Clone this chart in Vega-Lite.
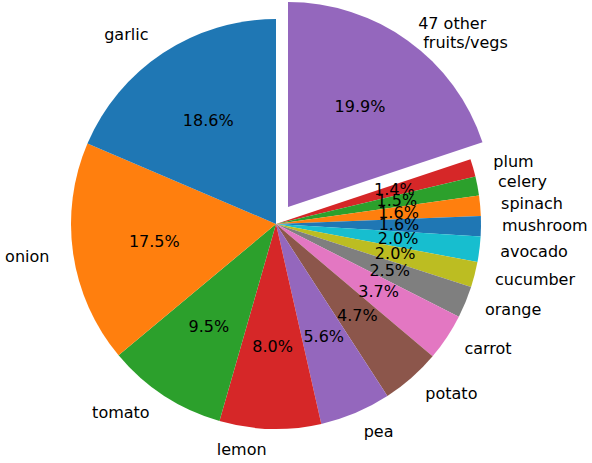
{
  "$schema": "https://vega.github.io/schema/vega-lite/v6.json",
  "width": 552,
  "height": 448,
  "autosize": {"type": "none"},
  "padding": {"left": 0, "top": 0, "right": 40, "bottom": 15},
  "background": "white",
  "config": {"view": {"stroke": null}, "text": {"font": "DejaVu Sans", "fontSize": 16}},
  "data": {
    "values": [
      {"i": 1, "label": "47 other\n\u200b\u00a0fruits/vegs", "share": 0.199},
      {"i": 2, "label": "plum", "share": 0.014},
      {"i": 3, "label": "celery", "share": 0.015},
      {"i": 4, "label": "spinach", "share": 0.016},
      {"i": 5, "label": "mushroom", "share": 0.016},
      {"i": 6, "label": "avocado", "share": 0.020},
      {"i": 7, "label": "cucumber", "share": 0.020},
      {"i": 8, "label": "orange", "share": 0.025},
      {"i": 9, "label": "carrot", "share": 0.037},
      {"i": 10, "label": "potato", "share": 0.047},
      {"i": 11, "label": "pea", "share": 0.056},
      {"i": 12, "label": "lemon", "share": 0.080},
      {"i": 13, "label": "tomato", "share": 0.095},
      {"i": 14, "label": "onion", "share": 0.175},
      {"i": 15, "label": "garlic", "share": 0.186}
    ]
  },
  "encoding": {
    "theta": {"field": "share", "type": "quantitative", "stack": true},
    "order": {"field": "i", "type": "quantitative"},
    "detail": {"field": "label", "type": "nominal"}
  },
  "layer": [
    {
      "mark": {"type": "arc", "outerRadius": 205},
      "encoding": {
        "color": {
          "field": "label", "type": "nominal", "legend": null,
          "scale": {
            "domain": ["garlic", "onion", "tomato", "lemon", "pea", "potato", "carrot", "orange", "cucumber", "avocado", "mushroom", "spinach", "celery", "plum", "47 other\n\u200b\u00a0fruits/vegs"],
            "range": ["#1f77b4", "#ff7f0e", "#2ca02c", "#d62728", "#9467bd", "#8c564b", "#e377c2", "#7f7f7f", "#bcbd22", "#17becf", "#1f77b4", "#ff7f0e", "#2ca02c", "#d62728", "#9467bd"]
          }
        },
        "opacity": {"condition": {"test": "datum.i == 1", "value": 0}, "value": 1}
      }
    },
    {
      "mark": {"type": "arc", "outerRadius": 205, "xOffset": 12, "yOffset": -17},
      "encoding": {
        "color": {"field": "label", "type": "nominal", "legend": null},
        "opacity": {"condition": {"test": "datum.i == 1", "value": 1}, "value": 0}
      }
    },
    {
      "mark": {"type": "text", "radius": 123, "align": "center", "baseline": "middle", "color": "black"},
      "encoding": {
        "text": {"field": "share", "type": "quantitative", "format": ".1%"},
        "opacity": {"condition": {"test": "datum.i == 1", "value": 0}, "value": 1}
      }
    },
    {
      "mark": {"type": "text", "radius": 123, "align": "center", "baseline": "middle", "color": "black", "xOffset": 12, "yOffset": -17},
      "encoding": {
        "text": {"field": "share", "type": "quantitative", "format": ".1%"},
        "opacity": {"condition": {"test": "datum.i == 1", "value": 1}, "value": 0}
      }
    },
    {
      "mark": {"type": "text", "radius": 226, "align": "right", "baseline": "middle", "color": "black", "dx": -3},
      "encoding": {
        "text": {"field": "label", "type": "nominal"},
        "opacity": {"condition": {"test": "datum.i >= 12", "value": 1}, "value": 0}
      }
    },
    {
      "mark": {"type": "text", "radius": 226, "align": "left", "baseline": "middle", "color": "black"},
      "encoding": {
        "text": {"field": "label", "type": "nominal"},
        "opacity": {"condition": {"test": "datum.i >= 2 && datum.i <= 11", "value": 1}, "value": 0}
      }
    },
    {
      "mark": {"type": "text", "radius": 226, "align": "left", "baseline": "middle", "color": "black", "lineBreak": "\n", "lineHeight": 19, "xOffset": 10, "yOffset": -17},
      "encoding": {
        "text": {"field": "label", "type": "nominal"},
        "opacity": {"condition": {"test": "datum.i == 1", "value": 1}, "value": 0}
      }
    }
  ]
}
